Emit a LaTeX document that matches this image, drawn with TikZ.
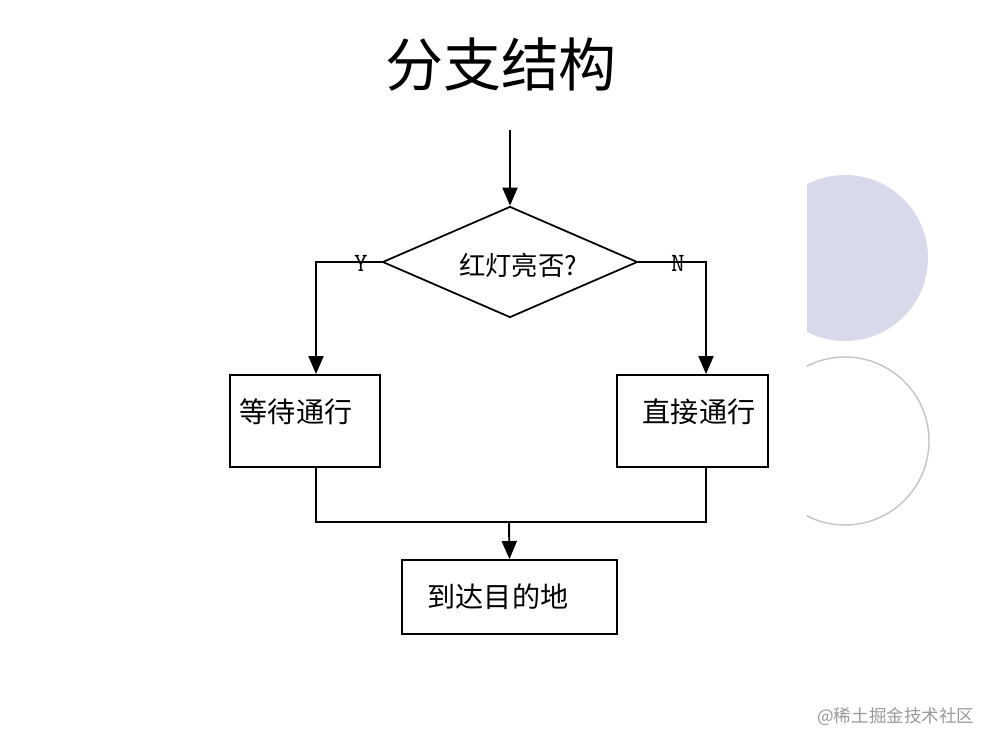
\documentclass[tikz,border=0pt]{standalone}
\usepackage{fontspec}
\setmainfont{Noto Sans CJK SC}
\usetikzlibrary{shapes.geometric,arrows.meta}
\definecolor{lav}{HTML}{D9D9EC}
\definecolor{ringgray}{HTML}{C4C4C4}
\definecolor{wmgray}{HTML}{9A9A9A}
\begin{document}
\begin{tikzpicture}[x=0.02cm,y=-0.02cm,
  line/.style={line width=1.1pt,black},
  arr/.style={line,-{Triangle[length=0.36cm,width=0.30cm]}},
  stepbox/.style={draw,line width=1.1pt,inner sep=0pt},
  txt/.style={inner sep=0pt,font=\fontsize{16pt}{19pt}\selectfont},
  yn/.style={inner sep=0pt,font=\ttfamily\fontsize{15pt}{17pt}\selectfont}]
\useasboundingbox (0,0) rectangle (1000,750);
\fill[white] (0,0) rectangle (1000,750);
% decorative circles
\begin{scope}
  \clip (807,0) rectangle (1000,750);
  \fill[lav] (845,258) circle (1.66cm);
  \draw[ringgray,line width=0.8pt] (845,441) circle (1.68cm);
\end{scope}
% title
\node[inner sep=0pt,font=\fontsize{33pt}{38pt}\selectfont] (title) at (501,65) {分支结构};
% diamond
\node[draw,diamond,line width=1pt,inner sep=0pt,minimum width=5.1cm,minimum height=2.22cm] (d) at (510,262) {};
\node[inner sep=0pt,font=\fontsize{15pt}{18pt}\selectfont] (dt) at (518,265) {红灯亮否?};
% boxes
\node[stepbox,minimum width=3cm,minimum height=1.84cm] (wait) at (305,421) {};
\node[txt] (waitt) at (296,412) {等待通行};
\node[stepbox,minimum width=3.02cm,minimum height=1.84cm] (go) at (692.5,421) {};
\node[txt] (got) at (699,412) {直接通行};
\node[stepbox,minimum width=4.3cm,minimum height=1.48cm] (dest) at (509.5,597) {};
\node[txt] (destt) at (498,597) {到达目的地};
% coordinates
\coordinate (start) at (510,130);
\coordinate (yl) at (316,262);
\coordinate (nr) at (706,262);
\coordinate (jl) at (316,522);
\coordinate (jr) at (706,522);
\coordinate (m) at (509,522);
% connectors
\draw[arr] (start) -- (d.north);
\draw[arr] (d.west) -- (yl) -- (yl |- wait.north);
\draw[arr] (d.east) -- (nr) -- (nr |- go.north);
\draw[line] (wait.south -| yl) -- (jl) -- (jr) -- (go.south -| jr);
\draw[arr] (m) -- (dest.north);
% Y / N labels
\node[yn] (ylab) at (361,263) {Y};
\node[yn] (nlab) at (678,263) {N};
% watermark
\node[inner sep=0pt,anchor=west,text=wmgray,font=\fontsize{10pt}{12pt}\selectfont] (wm) at (817,717) {@稀土掘金技术社区};
\end{tikzpicture}
\end{document}
